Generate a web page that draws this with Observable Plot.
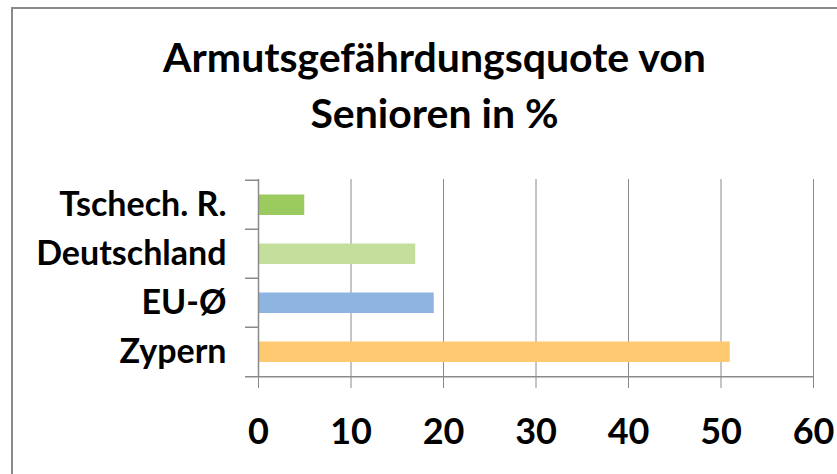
<!DOCTYPE html>
<html>
<head>
<meta charset="utf-8">
<script src="https://cdn.jsdelivr.net/npm/d3@7"></script>
<script src="https://cdn.jsdelivr.net/npm/@observablehq/plot@0.6"></script>
<style>
  html, body { margin: 0; padding: 0; background: #fff; overflow: hidden; }
  #wrap { position: relative; width: 837px; height: 474px; overflow: hidden; font-family: Lato, "Open Sans", sans-serif; }
  #frame { position: absolute; left: 11px; top: 7px; width: 900px; height: 600px; border: 2px solid #8a8a8a; box-sizing: border-box; }
  #title { position: absolute; left: 32px; right: 0; top: 29px; text-align: center; font-weight: bold; font-size: 41px; line-height: 56px; color: #000; }
  #chart { position: absolute; left: 0; top: 150px; }
  #chart g[aria-label="x-axis tick"] { stroke: #8a8a8a; }
</style>
</head>
<body>
<div id="wrap">
  <div id="frame"></div>
  <div id="title">Armutsgefährdungsquote von<br>Senioren in %</div>
  <div id="chart"></div>
</div>
<script>
const categories = ["Tschech. R.", "Deutschland", "EU-Ø", "Zypern"];
const values = [5, 17, 19, 51];
const colors = ["#9bcb5f", "#c4df9b", "#8eb4e2", "#fec970"];
const xTicks = [0, 10, 20, 30, 40, 50, 60];

const data = categories.map((c, i) => ({category: c, value: values[i], color: colors[i]}));
const gray = "#8a8a8a";
const bandHalf = 198 / categories.length / 2;

const plot = Plot.plot({
  width: 837,
  height: 324,
  marginLeft: 258,
  marginRight: 24,
  marginTop: 29,
  marginBottom: 97,
  style: {fontFamily: "Lato, 'Open Sans', sans-serif", background: "transparent", overflow: "visible"},
  x: {domain: [0, 60], ticks: xTicks},
  y: {domain: categories, padding: 0},
  marks: [
    Plot.gridX(xTicks, {stroke: gray, strokeOpacity: 1, strokeWidth: 1}),
    Plot.barX(data, {x: "value", y: "category", fill: "color", insetTop: 14.5, insetBottom: 14}),
    // left axis line and band-boundary ticks
    Plot.ruleX([0], {stroke: gray, strokeWidth: 1.5}),
    Plot.ruleY(categories, {y: d => d, dy: -bandHalf, x1: -1.4, x2: 0, stroke: gray, strokeWidth: 1.5}),
    Plot.ruleY(categories.slice(-1), {y: d => d, dy: bandHalf, x1: -1.4, x2: 60, stroke: gray, strokeWidth: 1.5}),
    Plot.axisX(xTicks, {tickSize: 11, tickPadding: 30, fontSize: 36, fontWeight: "bold", fill: "#000", label: null}),
    Plot.axisY({tickSize: 0, tickPadding: 32, fontSize: 34, fontWeight: "bold", fill: "#000", label: null})
  ]
});
document.getElementById("chart").appendChild(plot);
</script>
</body>
</html>
